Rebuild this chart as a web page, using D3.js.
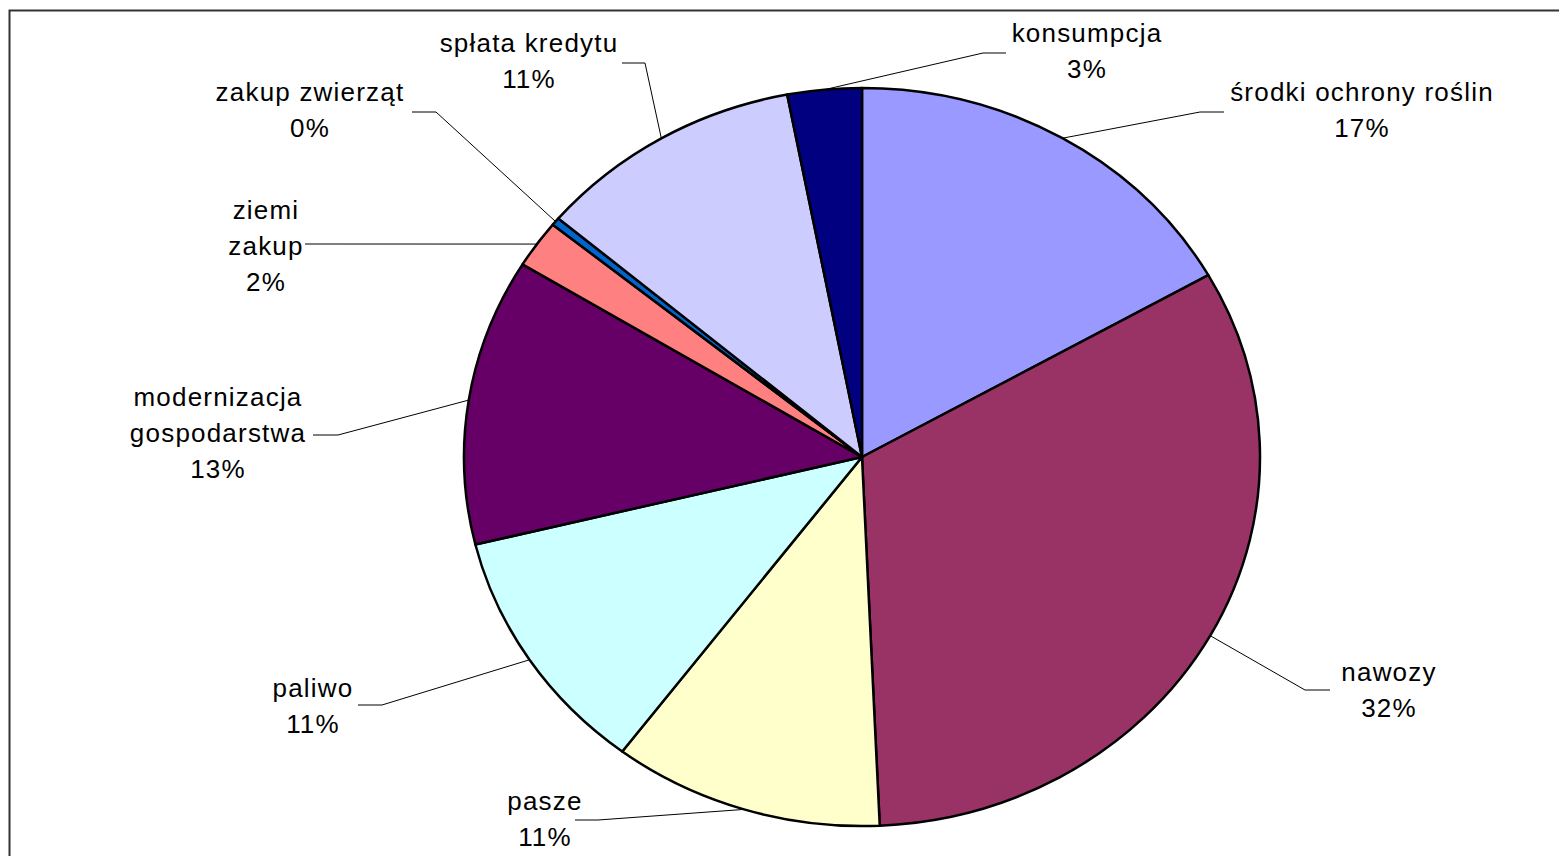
<!DOCTYPE html>
<html>
<head>
<meta charset="utf-8">
<script src="https://cdn.jsdelivr.net/npm/d3@7"></script>
<style>
  body { margin: 0; background: #fff; }
  svg { display: block; }
  text { font-family: "Liberation Sans", Arial, sans-serif; font-size: 26px; letter-spacing: 1.2px; fill: #000; }
</style>
</head>
<body>
<div id="chart"></div>
<script>
// data (percent shares, clockwise from 12 o'clock)
var categories = ["środki ochrony roślin", "nawozy", "pasze", "paliwo",
  "modernizacja gospodarstwa", "ziemi zakup", "zakup zwierząt", "spłata kredytu", "konsumpcja"];
var values = [16.8, 32.49, 11.0, 10.9, 12.55, 2.1, 0.35, 10.8, 3.01];
var colors = ["#9999FF", "#993366", "#FFFFCC", "#CCFFFF", "#660066", "#FF8080", "#0066CC", "#CCCCFF", "#000080"];
// how each label is broken into lines
var labelLines = [["środki ochrony roślin"], ["nawozy"], ["pasze"], ["paliwo"],
  ["modernizacja", "gospodarstwa"], ["ziemi", "zakup"], ["zakup zwierząt"], ["spłata kredytu"], ["konsumpcja"]];

function init() {
  var w = 1559;
  var h = 856;
  var cx = 862, cy = 457;
  var rx = 398, ry = 369;

  // label layout: text centre x, first baseline y, leader elbow and end
  var layout = [
    { x: 1362, y: 101, elbow: [1200, 112], end: [1224, 112] },
    { x: 1389, y: 681, elbow: [1305, 690], end: [1330, 690] },
    { x: 545,  y: 810, elbow: [598, 820],  end: [575, 820] },
    { x: 313,  y: 697, elbow: [382, 705],  end: [358, 705] },
    { x: 218,  y: 406, elbow: [338, 435],  end: [313, 435] },
    { x: 266,  y: 219, elbow: [305, 244],  end: [305, 244] },
    { x: 310,  y: 101, elbow: [436, 112],  end: [412, 112] },
    { x: 529,  y: 52,  elbow: [645, 63],   end: [622, 63] },
    { x: 1087, y: 42,  elbow: [983, 53],   end: [1006, 53] }
  ];

  var total = d3.sum(values);

  var svg = d3.select("#chart")
      .append("svg")
      .attr("width", w)
      .attr("height", h);

  // chart frame (right and bottom edges fall outside the picture)
  svg.append("rect")
      .attr("x", 9.5).attr("y", 10.5)
      .attr("width", w).attr("height", h)
      .attr("fill", "none")
      .attr("stroke", "#333")
      .attr("stroke-width", 2);

  var pie = d3.pie().sort(null).value(function(d) { return d; });
  var arcs = pie(values);

  var arc = d3.arc().innerRadius(0).outerRadius(ry);

  // pie drawn as a circle then stretched to an ellipse
  var g = svg.append("g")
      .attr("transform", "translate(" + cx + "," + cy + ") scale(" + (rx / ry) + ",1)");

  g.selectAll("path")
    .data(arcs)
    .enter()
    .append("path")
    .attr("d", arc)
    .attr("fill", function(d, i) { return colors[i]; })
    .attr("stroke", "#000")
    .attr("stroke-width", 2.5)
    .attr("stroke-linejoin", "round")
    .attr("vector-effect", "non-scaling-stroke");

  // point on the ellipse edge at a slice's middle angle
  function edgePoint(d) {
    var a = (d.startAngle + d.endAngle) / 2;
    return [cx + rx * Math.sin(a), cy - ry * Math.cos(a)];
  }

  // leader lines
  svg.selectAll("polyline.leader")
    .data(arcs)
    .enter()
    .append("polyline")
    .attr("class", "leader")
    .attr("points", function(d, i) {
      var p = edgePoint(d);
      return [p, layout[i].elbow, layout[i].end].map(function(q) { return q.join(","); }).join(" ");
    })
    .attr("fill", "none")
    .attr("stroke", "#000")
    .attr("stroke-width", 1);

  // labels
  var labels = svg.selectAll("text.lbl")
    .data(arcs)
    .enter()
    .append("text")
    .attr("class", "lbl")
    .attr("text-anchor", "middle");

  labels.each(function(d, i) {
    var t = d3.select(this);
    var lines = labelLines[i].concat([Math.round(d.value / total * 100) + "%"]);
    lines.forEach(function(s, k) {
      t.append("tspan")
        .attr("x", layout[i].x)
        .attr("y", layout[i].y + k * 36)
        .text(s);
    });
  });
}

window.onload = init;
</script>
</body>
</html>
